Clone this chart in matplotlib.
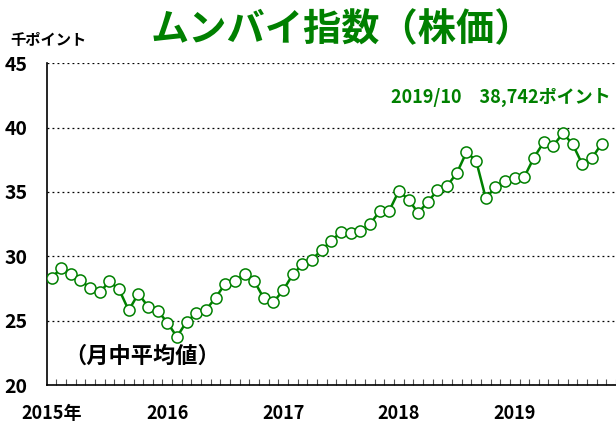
import matplotlib.pyplot as plt
import numpy as np

plt.rcParams['font.family'] = ['Noto Sans CJK JP', 'DejaVu Sans']

# Månadsmedel 2015/01 - 2019/10 (tusen poäng)
y2015 = [28.34, 29.06, 28.64, 28.18, 27.50, 27.20, 28.05, 27.43, 25.80, 27.10, 26.10, 25.78]
y2016 = [24.85, 23.74, 24.93, 25.57, 25.83, 26.78, 27.87, 28.10, 28.59, 28.10, 26.73, 26.45]
y2017 = [27.35, 28.59, 29.37, 29.75, 30.50, 31.20, 31.90, 31.82, 31.95, 32.50, 33.49, 33.54]
y2018 = [35.09, 34.40, 33.37, 34.24, 35.12, 35.48, 36.46, 38.09, 37.44, 34.53, 35.35, 35.89]
y2019 = [36.07, 36.18, 37.67, 38.86, 38.60, 39.56, 38.73, 37.16, 37.62, 38.74]
varden = y2015 + y2016 + y2017 + y2018 + y2019

ar_etiketter = ["2015年", "2016", "2017", "2018", "2019"]
y_ticks = [20, 25, 30, 35, 40, 45]
gron = "#008000"

manader = np.arange(len(varden))

fig = plt.figure(figsize=(6.16, 4.23), dpi=100)
ax = fig.add_axes([0.0758, 0.0898, 0.9242, 0.7606])

ax.plot(manader, varden, color=gron, linewidth=1.8, marker="o", markersize=8,
        markerfacecolor="white", markeredgecolor=gron, markeredgewidth=1.1, zorder=3)

ax.set_xlim(-0.5, 58.2)
ax.set_ylim(20, 45)

# y-axel
ax.set_yticks(y_ticks)
ax.set_yticklabels([str(v) for v in y_ticks], fontsize=14, fontweight="bold")
ax.tick_params(axis="y", length=0, pad=14)
ax.yaxis.grid(True, linestyle=(0, (1.5, 2.5)), color="black", linewidth=0.9)
ax.set_axisbelow(True)

# x-axel: små månadsstreck inåt, årsetiketter under
ax.set_xticks(np.arange(0.5, 59, 1), minor=True)
ax.set_xticks([0, 12, 24, 36, 48])
ax.set_xticklabels(ar_etiketter, fontsize=13, fontweight="bold")
ax.tick_params(axis="x", which="major", length=0, pad=14)
ax.tick_params(axis="x", which="minor", direction="in", length=4, color="#555555", width=0.8)
ax.get_xticklabels()[0].set_x(-0.7)

ax.spines["top"].set_visible(False)
ax.spines["right"].set_visible(False)
ax.spines["left"].set_linewidth(1.2)
ax.spines["bottom"].set_linewidth(1.2)

# texter
fig.text(0.555, 0.93, "ムンバイ指数（株価）", color=gron, fontsize=27.5, fontweight="bold",
         ha="center", va="center")
fig.text(0.016, 0.905, "千ポイント", fontsize=11, fontweight="bold", ha="left", va="center")
ax.text(0.99, 0.895, "2019/10　38,742ポイント", transform=ax.transAxes, color=gron,
        fontsize=13, fontweight="bold", ha="right", va="center")
ax.text(0.03, 0.09, "（月中平均値）", transform=ax.transAxes, fontsize=16,
        fontweight="bold", ha="left", va="center")

plt.savefig("out.png", dpi=100)
